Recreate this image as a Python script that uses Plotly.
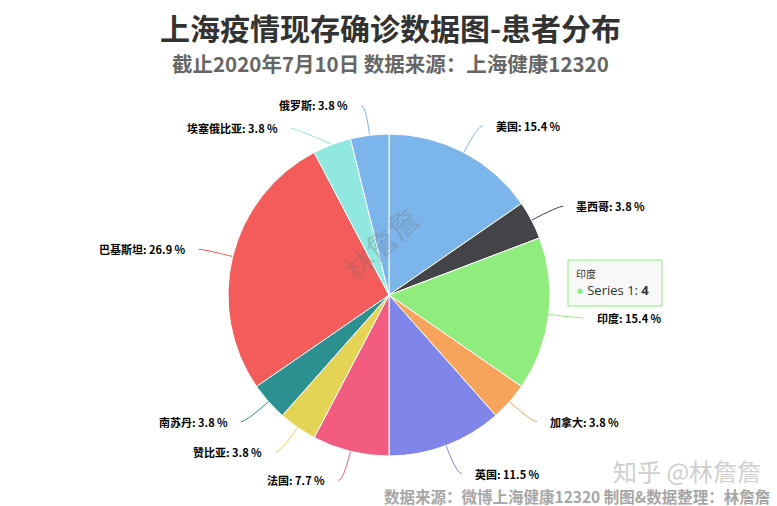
import math
import plotly.graph_objects as go

W, H = 777, 506

categories = ['美国', '墨西哥', '印度', '加拿大', '英国', '法国', '赞比亚', '南苏丹', '巴基斯坦', '埃塞俄比亚', '俄罗斯']
values = [4, 1, 4, 1, 3, 2, 1, 1, 7, 1, 1]
colors = ['#7cb5ec', '#434348', '#90ed7d', '#f7a35c', '#8085e9', '#f15c80',
          '#e4d354', '#2b908f', '#f45b5b', '#91e8e1', '#7cb5ec']

title_text = '上海疫情现存确诊数据图-患者分布'
subtitle_text = '截止2020年7月10日 数据来源：上海健康12320'
credit_text = '数据来源：微博上海健康12320 制图&数据整理：林詹詹'
zhihu_text = '知乎 @林詹詹'
watermark_text = '林詹詹'
series_name = 'Series 1'
tooltip_index = 2

FONT = 'Noto Sans CJK SC'
CX, CY, R = 389, 295, 161   # pie centre / radius in pixels
DIST = 30                   # label distance


def px(x):
    return x / W


def py(y):
    return 1 - y / H


fig = go.Figure(go.Pie(
    labels=categories, values=values, sort=False, direction='clockwise', rotation=0,
    marker=dict(colors=colors, line=dict(color='white', width=1)),
    textinfo='none', textposition='none', showlegend=False,
    domain=dict(x=[px(CX - R), px(CX + R)], y=[py(CY + R), py(CY - R)]),
    hovertemplate='%{label}<br>' + series_name + ': <b>%{value}</b><extra></extra>',
))

total = sum(values)
items = []
cum = 0
for i, (c, v) in enumerate(zip(categories, values)):
    th = (cum + v / 2) / total * 2 * math.pi
    cum += v
    side = 1 if math.sin(th) >= 0 else -1
    ex, ey = CX + R * math.sin(th), CY - R * math.cos(th)
    ay = CY - (R + DIST) * math.cos(th)
    items.append(dict(i=i, side=side, ex=ex, ey=ey, ay=ay))

# simple overlap avoidance per side
for s in (1, -1):
    grp = sorted([it for it in items if it['side'] == s], key=lambda d: d['ay'])
    prev = None
    for it in grp:
        if prev is not None and it['ay'] < prev + 23:
            it['ay'] = prev + 23
        prev = it['ay']

shapes = []
annotations = []
for it in items:
    i, s = it['i'], it['side']
    ay = it['ay']
    ax = CX + s * math.sqrt(max(0.0, (R + DIST) ** 2 - (ay - CY) ** 2))
    shapes.append(dict(
        type='path', xref='paper', yref='paper', layer='below',
        path=f"M {px(it['ex'])},{py(it['ey'])} Q {px(ax)},{py(ay)} {px(ax + s * 5)},{py(ay)}",
        line=dict(color=colors[i], width=1)))
    pct = 100 * values[i] / total
    annotations.append(dict(
        x=px(ax + s * 16), y=py(ay), xref='paper', yref='paper', showarrow=False,
        xanchor='left' if s > 0 else 'right', yanchor='middle',
        text=f"<b>{categories[i]}: {pct:.1f} %</b>",
        font=dict(family=FONT, size=11, color='#000000')))

# titles
annotations.append(dict(x=px(390), y=py(27), xref='paper', yref='paper', showarrow=False,
                        xanchor='center', yanchor='middle', text=f'<b>{title_text}</b>',
                        font=dict(family=FONT, size=30, color='#333333')))
annotations.append(dict(x=px(390), y=py(63), xref='paper', yref='paper', showarrow=False,
                        xanchor='center', yanchor='middle', text=f'<b>{subtitle_text}</b>',
                        font=dict(family=FONT, size=20.5, color='#666666')))
# watermark on pie
annotations.append(dict(x=px(380), y=py(243), xref='paper', yref='paper', showarrow=False,
                        text=watermark_text, textangle=-43,
                        font=dict(family=FONT, size=30, color='rgba(110,110,110,0.3)')))
# zhihu watermark
annotations.append(dict(x=px(763), y=py(470), xref='paper', yref='paper', showarrow=False,
                        xanchor='right', yanchor='middle', text=zhihu_text,
                        font=dict(family=FONT, size=24, color='rgba(200,200,200,0.9)')))
# credit
annotations.append(dict(x=px(772), y=py(496), xref='paper', yref='paper', showarrow=False,
                        xanchor='right', yanchor='middle', text=f'<b>{credit_text}</b>',
                        font=dict(family=FONT, size=15.5, color='#a6a6a6')))

# static tooltip
shapes.append(dict(type='rect', xref='paper', yref='paper',
                   x0=px(568), x1=px(662), y0=py(306), y1=py(260),
                   fillcolor='rgba(247,247,247,0.85)', line=dict(color=colors[tooltip_index], width=1),
                   layer='above'))
annotations.append(dict(x=px(574), y=py(273), xref='paper', yref='paper', showarrow=False,
                        xanchor='left', yanchor='middle', text=categories[tooltip_index],
                        font=dict(family=FONT, size=10, color='#333333')))
annotations.append(dict(x=px(574), y=py(290), xref='paper', yref='paper', showarrow=False,
                        xanchor='left', yanchor='middle',
                        text=f"<span style='color:{colors[tooltip_index]}'>●</span> {series_name}: <b>{values[tooltip_index]}</b>",
                        font=dict(family='Open Sans', size=13, color='#333333')))

fig.update_layout(
    width=W, height=H, margin=dict(l=0, r=0, t=0, b=0),
    paper_bgcolor='white', plot_bgcolor='white',
    shapes=shapes, annotations=annotations,
)

fig.write_html('out.html')
